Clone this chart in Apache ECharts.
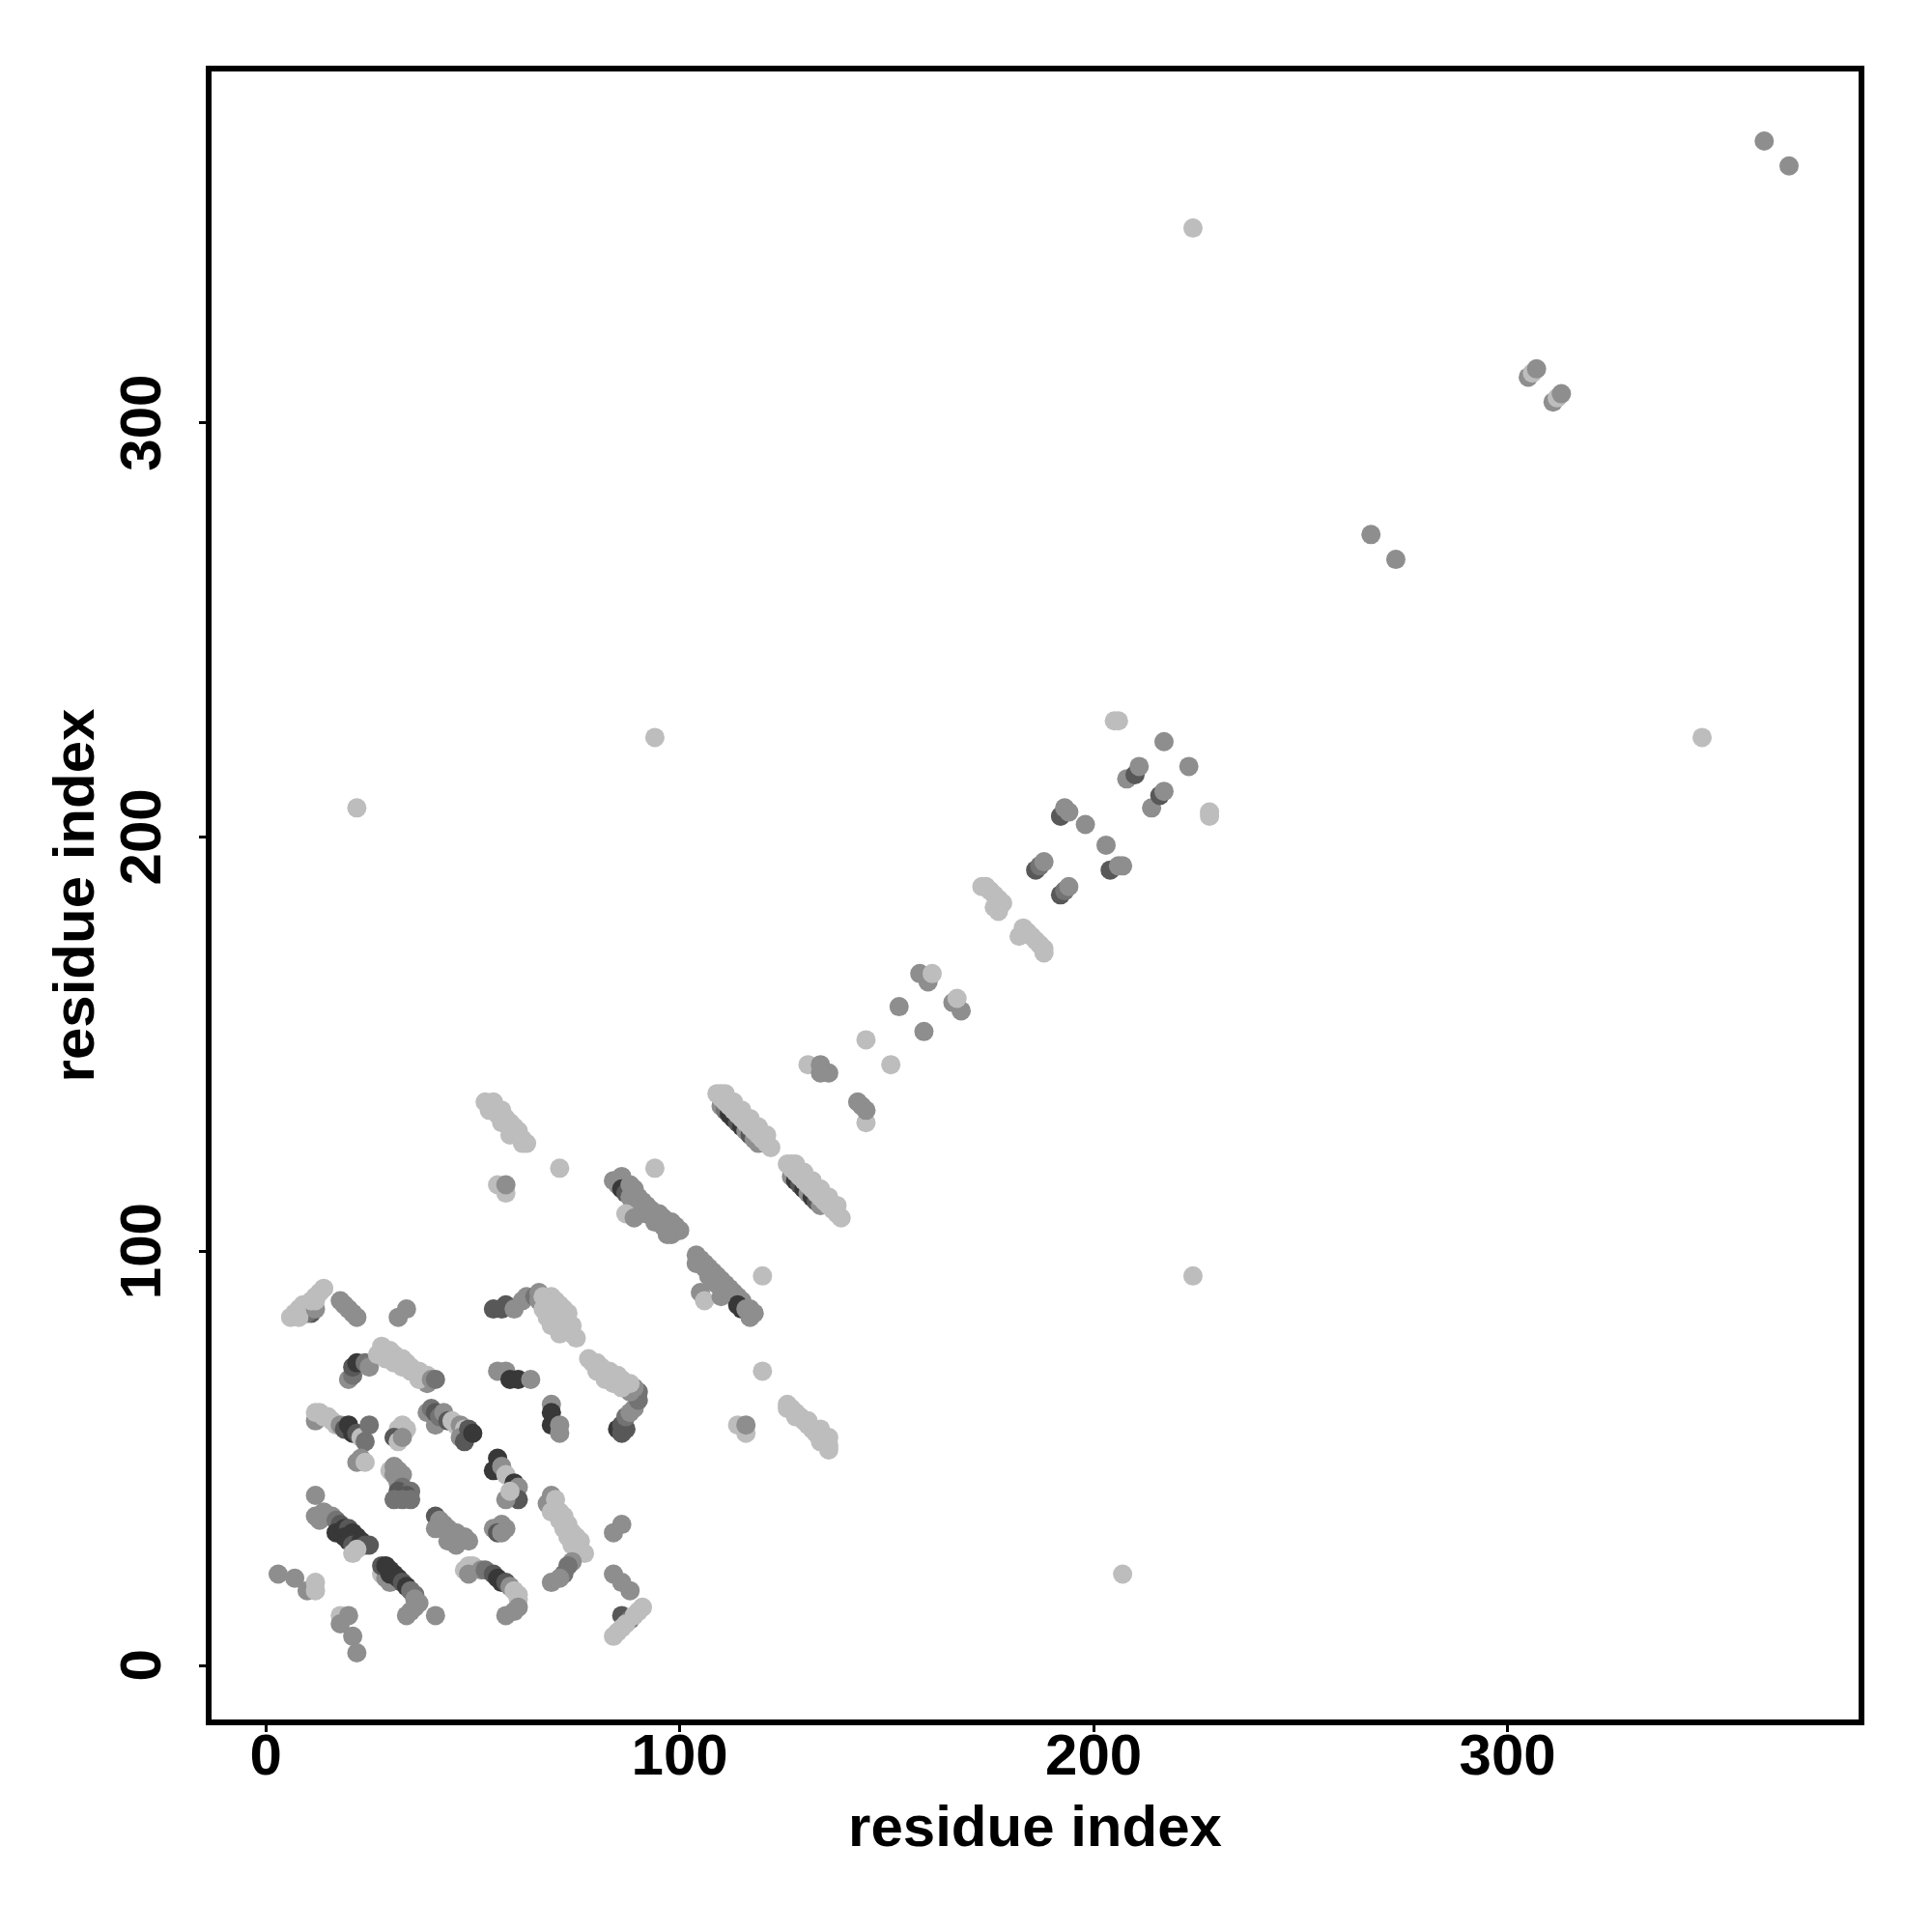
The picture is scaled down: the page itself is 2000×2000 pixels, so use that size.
<!DOCTYPE html>
<html>
<head>
<meta charset="utf-8">
<script src="https://cdn.jsdelivr.net/npm/echarts@6/dist/echarts.min.js"></script>
<style>
  html, body { margin: 0; padding: 0; background: #fff; }
  #chart { width: 2000px; height: 2000px; }
</style>
</head>
<body>
<div id="chart"></div>
<script>
// Each contact: [residue i, residue j, shade level (1 = darkest ... 5 = lightest)]
const cornerContacts = [
  [3,22,4],[7,21,4],[10,18,4],[12,20,5],[12,18,5],
  [18,12,5],[20,12,4],[18,10,4],[21,7,4],[22,3,4],
  [12,41,4],[12,36,4],[13,35,4],[14,37,4],[15,36,4],[16,36,4],[17,35,3],[18,34,2],[17,32,1],[19,33,1],[20,33,2],[19,31,1],[21,32,1],[20,30,1],[22,31,1],[21,29,2],[23,30,1],[24,29,2],[25,29,2],[22,28,5],[21,27,5],
  [28,22,5],[29,21,4],[30,20,4],[28,24,2],[29,24,1],[30,22,1],[30,23,1],[31,22,1],[32,21,1],[33,20,2],[34,19,1],[35,18,3],[36,17,3],[36,16,4],[37,15,4],[36,14,4],[35,13,4],[34,12,4],[41,12,4],
  [11,85,2],[10,85,3],[6,84,5],[7,85,5],[8,86,5],[8,84,5],[9,87,5],[10,87,5],[12,86,4],[11,88,5],[12,88,5],[12,89,5],[13,90,5],[14,91,5],[18,88,4],[19,87,4],[20,86,4],[21,85,4],[22,84,4],
  [86,12,2],[88,11,3],[84,7,5],[85,8,5],[86,9,5],[87,10,5],[89,12,5],[90,13,5],[91,14,5],[84,22,4],[86,20,4],[88,18,4],[84,32,4],[86,34,4],[32,84,4],[34,86,4]
];
const blockContacts = [
  [56,71,4],[58,71,4],[59,69,1],[61,69,1],[64,69,4],
  [69,63,4],[69,61,1],[69,58,1],[71,58,4],[71,56,4],
  [20,69,4],[21,70,3],[21,72,2],[22,73,1],[24,73,3],[25,72,4],[39,68,4],[37,69,5],
  [27,75,5],[28,77,5],[29,76,5],[29,74,5],[30,76,5],[31,75,5],[31,73,5],[32,74,5],[33,74,5],[33,72,5],[34,73,5],[35,72,5],[35,71,5],[36,71,5],[37,71,5],[38,70,5],[39,70,5],[40,69,4],[41,69,3],
  [68,39,4],[69,37,5],
  [69,41,4],[70,40,5],[70,38,5],[71,37,5],[71,35,5],[72,36,5],[72,33,5],[73,34,5],[73,33,5],[73,31,5],[74,32,5],[74,29,5],[75,31,5],[76,30,5],[76,28,5],[77,27,5],[74,25,4],[73,24,3],[72,22,3],[71,21,4],[69,20,4],
  [12,59,4],[12,61,5],[13,61,5],[14,60,5],[15,60,5],[16,59,5],[17,58,5],[18,58,4],[19,57,2],[20,58,1],[21,56,1],[22,56,2],[23,55,5],[24,54,3],[25,58,3],[22,49,4],[23,50,4],[24,49,5],
  [48,23,5],[49,24,5],[50,24,5],[49,22,4],[52,23,4],[53,23,3],[55,22,2],[56,21,1],[57,20,1],[58,20,2],[59,19,4],[60,18,5],[61,17,5],[61,16,5],[61,14,4],[60,13,4],[58,12,4],
  [33,58,5],[32,57,5],[34,57,5],[31,55,2],[32,54,5],[33,55,4],
  [55,33,4],[57,34,4],[58,33,4],[56,32,2],[57,32,4],
  [41,58,4],[39,61,4],[40,62,3],[41,61,2],[42,60,3],[43,61,4],[44,59,2],[45,59,5],[46,58,5],[47,58,4],[48,57,5],[47,55,4],[48,54,2],[49,57,2],[50,56,1],
  [56,50,1],[55,47,1],[57,48,4],[58,46,5],[60,44,1],[61,43,4],[61,40,2],[58,40,4],[59,42,5],
  [30,47,5],[31,48,4],[32,47,4],[31,46,4],[33,46,4],[32,44,4],[33,43,3],[32,42,2],[35,42,3],[34,41,2],[33,40,3],[31,40,3],[35,40,3],
  [41,36,2],[42,35,4],[41,33,4],[43,34,4],[44,33,4],[45,32,4],[46,32,4],[47,31,4],[48,31,4],[49,30,4],[46,29,4],[44,30,4],
  [55,86,2],[57,86,2],[58,87,2],[60,86,4],[62,88,4],[63,89,4],[65,89,3],[66,90,4],[66,88,4],[68,88,1],[67,89,5],[67,86,5],[68,84,5],[69,82,5],[71,80,5],[69,89,5],[70,88,5],[71,87,5],[70,86,5],[72,86,5],[73,85,5],[71,84,5],[73,83,5],[74,82,5],[74,80,5],[75,79,5],[72,81,5],
  [85,57,1],[86,56,2],[87,57,2],[86,58,2],[87,60,3],[88,61,4],[89,62,4],[90,64,3],[90,66,3],[88,66,4],[89,67,4],[86,67,5],[84,68,5],[82,69,5],[80,71,5],[88,68,5],[87,68,5],[86,69,5],[85,70,5],[84,70,5],[83,71,5],[82,71,5],[81,72,5],[80,73,5],[79,73,5],[78,74,5]
];
const middleContacts = [
  [53,136,5],[54,135,5],[55,136,5],[55,135,5],[54,134,5],[56,134,5],[57,134,5],[56,133,5],[57,133,5],[58,132,5],[58,131,5],[59,131,5],[57,131,5],[60,130,5],[60,129,5],[59,128,5],[61,129,5],[62,127,5],[62,126,5],[63,126,5],[71,120,5],[56,116,5],[58,114,5],[58,116,4],
  [126,63,5],[127,62,5],[128,61,5],[129,60,5],[128,60,5],[130,59,5],[131,58,5],[131,59,5],[132,57,5],[133,56,5],[134,57,5],[134,55,5],[134,54,5],[135,54,5],[136,55,5],[136,53,5],[136,52,5],[133,56,5],[126,62,5],[129,60,5],[120,71,5],[114,58,5],[116,56,5],[116,58,4],
  [110,135,4],[111,134,3],[112,133,1],[113,132,1],[114,131,2],[115,130,1],[116,129,4],[117,128,2],[118,127,4],[119,126,4],
  [109,138,5],[110,137,5],[111,136,5],[112,135,5],[113,134,5],[114,133,5],[115,132,5],[116,131,5],[117,130,5],[118,129,5],[119,128,5],[120,127,5],[121,126,5],[122,125,5],[110,138,5],[112,136,5],
  [111,138,5],[113,136,5],[115,134,5],[117,132,5],[119,130,5],[121,128,5],
  [127,118,4],[128,117,1],[129,116,2],[130,115,1],[131,114,4],[132,113,1],[133,112,2],[134,111,4],
  [126,121,5],[127,120,5],[128,119,5],[129,118,5],[130,117,5],[131,116,5],[132,115,5],[133,114,5],[134,113,5],[135,112,5],[136,111,5],[137,110,5],[138,109,5],[139,108,5],[127,121,5],[129,119,5],
  [128,121,5],[130,119,5],[132,117,5],[134,115,5],[136,113,5],[138,111,5],
  [84,117,4],[86,118,4],[85,116,4],[86,115,1],[87,114,2],[88,116,4],[89,115,4],[88,113,4],[90,113,4],[91,112,4],[90,111,4],[92,111,4],[92,109,4],[93,110,4],[94,109,4],[94,107,4],[95,109,4],[96,108,4],[96,106,4],[97,107,4],[98,107,4],[98,104,4],[99,106,4],[100,105,4],[97,104,4],[87,109,5],[89,108,4],
  [104,99,4],[105,98,4],[106,97,4],[106,96,4],[107,96,4],[104,97,4],[108,95,4],[107,94,4],[108,93,4],[109,94,4],[109,92,4],[110,93,4],[111,92,4],[111,90,4],[112,91,4],[113,90,4],[114,89,4],[115,88,4],[114,87,1],[115,86,1],[116,86,4],[117,86,4],[118,85,4],[117,84,4],[105,90,4],[106,88,5],[110,89,4],
  [120,94,5],[94,120,5]
];
const chainContacts = [
  [131,145,5],[134,145,4],[136,143,4],[134,143,4],[145,131,5],[143,136,4],[145,134,4],[144,135,4],
  [145,151,5],[151,145,5],[153,159,4],[159,153,4],
  [158,167,4],[160,165,4],[161,167,5],[166,160,4],[168,158,4],[167,161,5],
  [173,188,5],[174,188,5],[175,187,5],[176,186,5],[177,185,5],[178,184,5],[176,183,5],[177,182,5],
  [183,178,5],[184,177,5],[182,176,5],[185,176,5],[186,175,5],[187,174,5],[188,173,5],[188,172,5],
  [186,192,2],[187,193,3],[188,194,4],[192,186,2],[193,187,3],[194,188,4],
  [192,205,2],[193,207,4],[194,206,4],[198,203,4],[203,198,4],[204,192,2],[206,193,4],[207,193,4],
  [205,228,5],[206,228,5],[217,223,4],[223,217,4],
  [208,214,4],[210,215,2],[211,217,4],[214,207,4],[216,210,2],[217,211,4],
  [228,205,5],[228,206,5]
];
const distantContacts = [
  [224,347,5],[347,224,5],[94,224,5],[224,94,5],[22,207,5],[207,22,5],
  [267,273,4],[273,267,4],[362,368,4],[368,362,4],
  [305,311,4],[306,312,5],[307,313,4],[311,305,4],[312,306,5],[313,307,4]
];
const tickValues = [0, 100, 200, 300];
const axisTitle = 'residue index';

const shadeColors = { 1: '#383838', 2: '#585858', 3: '#737373', 4: '#8e8e8e', 5: '#bdbdbd' };
const allContacts = [].concat(cornerContacts, blockContacts, middleContacts, chainContacts, distantContacts);

const font = 'Liberation Sans, Arial, Helvetica, sans-serif';
const chart = echarts.init(document.getElementById('chart'), null, { renderer: 'canvas' });
const axisCommon = {
  type: 'value',
  min: -13.8,
  max: 385.5,
  splitLine: { show: false },
  axisLine: { show: false, onZero: false },
  axisTick: { show: true, inside: false, length: 10, lineStyle: { color: '#000', width: 3 }, customValues: tickValues },
  nameLocation: 'middle',
  name: axisTitle,
  nameTextStyle: { fontFamily: font, fontWeight: 'bold', fontSize: 60, color: '#000' }
};
chart.setOption({
  animation: false,
  backgroundColor: '#fff',
  grid: { left: 216, top: 71, width: 1711, height: 1712, show: true, borderColor: '#000', borderWidth: 6, backgroundColor: 'transparent' },
  xAxis: Object.assign({}, axisCommon, {
    nameGap: 81,
    axisLabel: { customValues: tickValues, margin: 7, fontFamily: font, fontWeight: 'bold', fontSize: 60, color: '#000' }
  }),
  yAxis: Object.assign({}, axisCommon, {
    nameGap: 106,
    axisLabel: { customValues: tickValues, margin: 37, rotate: 90, fontFamily: font, fontWeight: 'bold', fontSize: 60, color: '#000' }
  }),
  series: [{
    type: 'scatter',
    symbol: 'circle',
    symbolSize: 20,
    data: allContacts,
    itemStyle: { color: p => shadeColors[p.data[2]], opacity: 1 },
    emphasis: { disabled: true }
  }]
});
</script>
</body>
</html>
